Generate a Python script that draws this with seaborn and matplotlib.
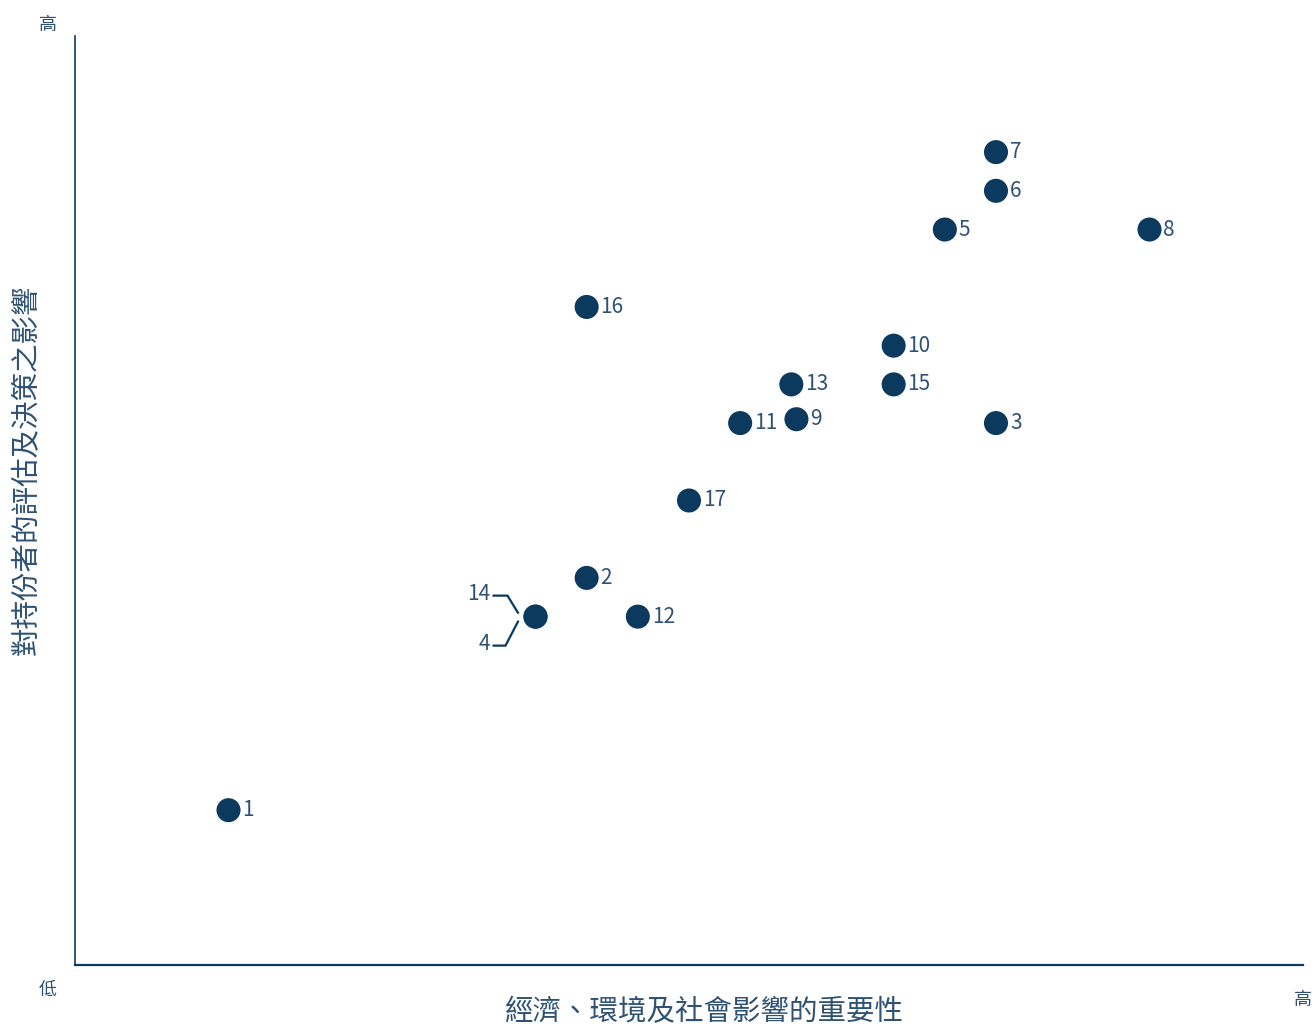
import seaborn as sns
import pandas as pd
import numpy as np
import matplotlib.pyplot as plt
from matplotlib.transforms import offset_copy

# topic ids with positions on the materiality grid (0-24 scale)
topics = ['1', '2', '3', '4', '5', '6', '7', '8', '9', '10', '11', '12', '13', '14', '15', '16', '17']
impact_importance = [3, 10, 18, 9, 17, 18, 18, 21, 14.1, 16, 13, 11, 14, 9, 16, 10, 12]
stakeholder_influence = [4, 10, 14, 9, 19, 20, 21, 19, 14.1, 16, 14, 9, 15, 9, 15, 17, 12]

x_title = '經濟、環境及社會影響的重要性'
y_title = '對持份者的評估及決策之影響'

navy = '#0b3a5e'
txt = '#2f5274'

data = pd.DataFrame({'topic': topics, 'x': impact_importance, 'y': stakeholder_influence})

sns.set_style('white')
plt.rcParams['font.family'] = ['Noto Sans CJK TC', 'DejaVu Sans']
plt.rcParams['font.weight'] = 'light'

fig = plt.figure(figsize=(13.15, 10.27), dpi=100)
ax = fig.add_axes([0.05703, 0.06037, 0.93384, 0.90458])
ax.set_xlim(0, 24)
ax.set_ylim(0, 24)

sns.scatterplot(data=data, x='x', y='y', s=300, color=navy, edgecolor='none', ax=ax, zorder=3)

# labels to the right of each dot (14 and 4 share a dot, bracketed on the left)
for _, r in data.iterrows():
    if r['topic'] in ('14', '4'):
        continue
    ax.annotate(r['topic'], (r['x'], r['y']), xytext=(10, 0), textcoords='offset points',
                ha='left', va='center', fontsize=15, color=txt)

shared = data[data['topic'] == '14'].iloc[0]
px, py = shared['x'], shared['y']

# bracket drawn in pixel offsets from the shared dot
for lab, pts in (('14', [(-17, 3), (-28, 21), (-43, 21)]),
                 ('4', [(-17, -4), (-30, -29), (-43, -29)])):
    disp = ax.transData.transform((px, py))
    xs, ys = [], []
    for dx, dy in pts:
        d = ax.transData.inverted().transform((disp[0] + dx, disp[1] + dy))
        xs.append(d[0]); ys.append(d[1])
    ax.plot(xs, ys, color=navy, lw=1.6, solid_capstyle='butt', solid_joinstyle='miter')
    ax.text(xs[-1], ys[-1], lab,
            transform=offset_copy(ax.transData, fig=fig, x=-2, y=2, units='dots'),
            ha='right', va='center', fontsize=15, color=txt)

ax.set_xticks([])
ax.set_yticks([])
ax.set_xlabel('')
ax.set_ylabel('')
for s in ('top', 'right'):
    ax.spines[s].set_visible(False)
ax.spines['left'].set_color(navy)
ax.spines['bottom'].set_color(navy)
ax.spines['left'].set_linewidth(1.2)
ax.spines['bottom'].set_linewidth(1.6)

ax.text(-0.022, 1.012, '高', transform=ax.transAxes, ha='center', va='center', fontsize=13, color=txt)
ax.text(-0.022, -0.027, '低', transform=ax.transAxes, ha='center', va='center', fontsize=13, color=txt)
ax.text(1.0, -0.038, '高', transform=ax.transAxes, ha='center', va='center', fontsize=13, color=txt)

ax.text(0.513, -0.051, x_title, transform=ax.transAxes, ha='center', va='center', fontsize=20.5, color=txt)
ax.text(-0.039, 0.533, y_title, transform=ax.transAxes, ha='center', va='center', rotation=90,
        fontsize=20.5, color=txt)

plt.savefig('out.png', dpi=100)
